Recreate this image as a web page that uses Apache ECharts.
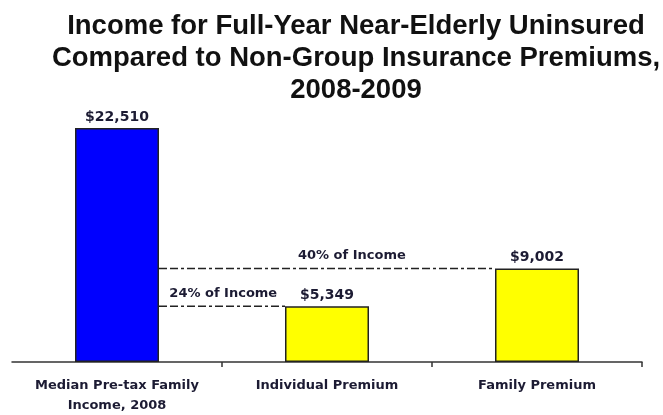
<!DOCTYPE html>
<html>
<head>
<meta charset="utf-8">
<script src="https://cdn.jsdelivr.net/npm/echarts@6/dist/echarts.min.js"></script>
<style>
  html, body { margin: 0; padding: 0; background: #ffffff; }
  #chart { width: 663px; height: 415px; }
</style>
</head>
<body>
<div id="chart"></div>
<script>
// Categories along the x axis
var categories = ['Median Pre-tax Family\nIncome, 2008', 'Individual Premium', 'Family Premium'];
// Dollar values for each bar
var values = [22510, 5349, 9002];
var valueLabels = ['$22,510', '$5,349', '$9,002'];
var barColors = ['#0000ff', '#ffff00', '#ffff00'];

// Dash-dot reference lines: share of income, drawn from the income bar to a premium bar
var shareLabels = ['40% of Income', '24% of Income'];
var shareTargets = [2, 1];          // category index of the premium bar
var shareValues = [9002, 5349];     // height of the premium bar
var shareLabelPos = [0.574, 0.51];  // where along the line the caption sits

var BAR_FRACTION = 0.4;
var TEXT = '#1c1b33';

var chart = echarts.init(document.getElementById('chart'), null, { renderer: 'canvas' });

var lineData = shareTargets.map(function (t, i) {
  return [t, shareValues[i], i];
});

chart.setOption({
  animation: false,
  backgroundColor: '#ffffff',
  title: {
    text: 'Income for Full-Year Near-Elderly Uninsured\nCompared to Non-Group Insurance Premiums,\n2008-2009',
    left: 351,
    top: 5,
    textAlign: 'center',
    textStyle: {
      fontFamily: 'Liberation Sans',
      fontWeight: 'bold',
      fontSize: 27.5,
      lineHeight: 32,
      color: '#111111'
    }
  },
  grid: { left: 12, right: 21, top: 102, bottom: 53, outerBoundsMode: 'none', containLabel: false },
  xAxis: {
    type: 'category',
    data: categories,
    axisLine: { lineStyle: { color: '#333333', width: 1.5 } },
    axisTick: {
      show: true,
      length: 5,
      lineStyle: { color: '#333333', width: 1.5 },
      interval: function (index) { return index !== 0; }
    },
    axisLabel: {
      interval: 0,
      margin: 14,
      fontFamily: 'DejaVu Sans',
      fontWeight: 'bold',
      fontSize: 13,
      lineHeight: 20,
      color: TEXT
    }
  },
  yAxis: {
    type: 'value',
    min: 0,
    max: 25000,
    show: false,
    splitLine: { show: false }
  },
  series: [
    {
      type: 'bar',
      barWidth: (BAR_FRACTION * 100) + '%',
      data: values.map(function (v, i) {
        return {
          value: v,
          itemStyle: { color: barColors[i] },
          label: { formatter: valueLabels[i] }
        };
      }),
      itemStyle: { borderColor: '#222222', borderWidth: 1.5 },
      label: {
        show: true,
        position: 'top',
        distance: 4,
        fontFamily: 'DejaVu Sans',
        fontWeight: 'bold',
        fontSize: 14,
        color: TEXT
      }
    },
    {
      type: 'custom',
      data: lineData,
      z: 5,
      renderItem: function (params, api) {
        var target = api.value(0);
        var v = api.value(1);
        var idx = api.value(2);
        var band = api.size([1, 0])[0];
        var half = band * BAR_FRACTION / 2;
        var start = api.coord([0, v]);
        var end = api.coord([target, v]);
        var x1 = start[0] + half;
        var x2 = end[0] - half;
        var y = start[1];
        var lx = x1 + (x2 - x1) * shareLabelPos[idx];
        return {
          type: 'group',
          children: [
            {
              type: 'line',
              shape: { x1: x1, y1: y, x2: x2, y2: y },
              style: { stroke: '#222222', lineWidth: 1.5, lineDash: [8, 3, 8, 3, 3, 3] }
            },
            {
              type: 'text',
              style: {
                x: lx,
                y: y - 6,
                text: shareLabels[idx],
                textAlign: 'center',
                textVerticalAlign: 'bottom',
                font: 'bold 13px "DejaVu Sans"',
                fill: TEXT
              }
            }
          ]
        };
      }
    }
  ]
});
</script>
</body>
</html>
